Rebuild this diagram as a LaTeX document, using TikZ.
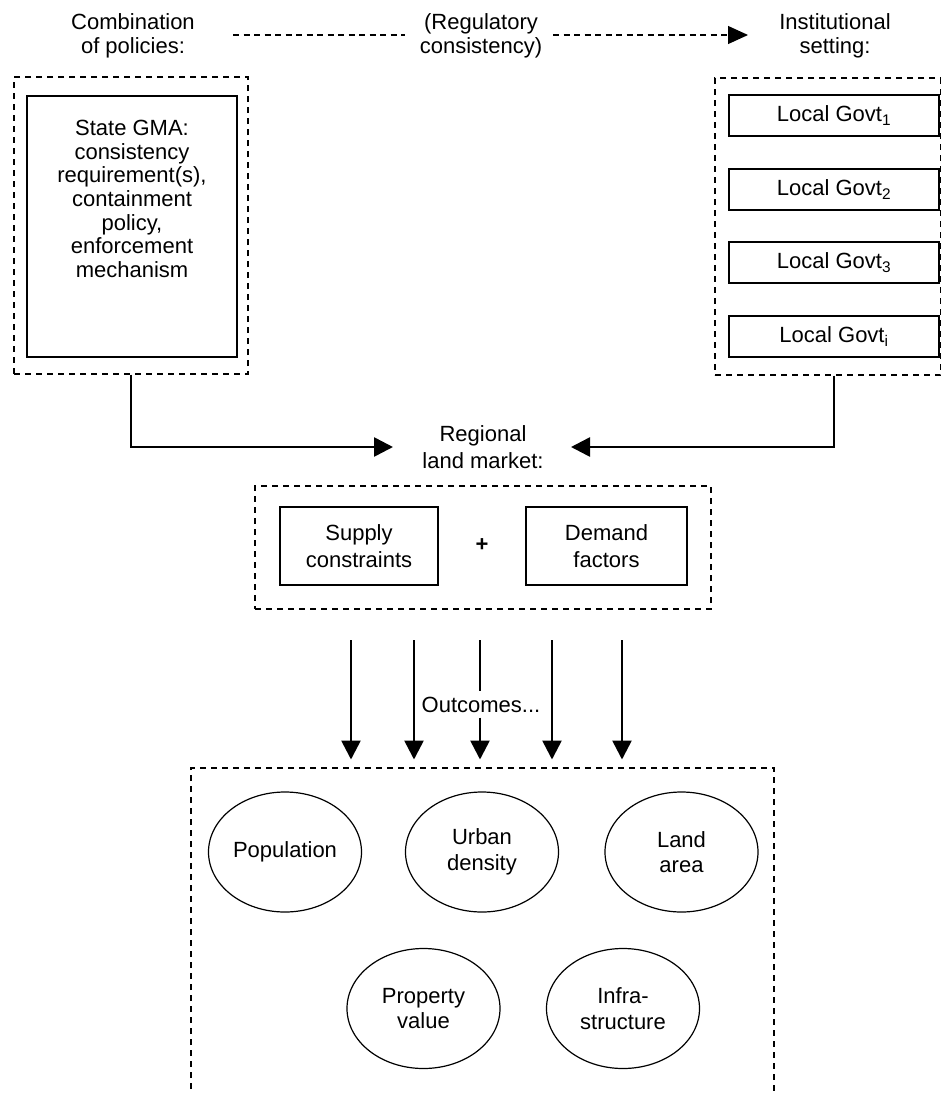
\documentclass[tikz,border=0pt]{standalone}
\usepackage{fontspec}
\setmainfont{Liberation Sans}
\usetikzlibrary{arrows.meta,shapes.geometric}
\tikzset{
  txt/.style={font=\fontsize{22}{24.5}\selectfont, align=center, inner sep=0pt},
  dbox/.style={draw, dash pattern=on 6pt off 5pt, line width=1.1pt},
  sbox/.style={draw, line width=1.4pt},
  oval/.style={draw, ellipse, line width=1.2pt, minimum width=153pt, minimum height=120pt, inner sep=0pt, font=\fontsize{22}{25.5}\selectfont, align=center},
  bigarrow/.style={line width=2.6pt, -{Triangle[length=19pt,width=19pt]}},
  darrow/.style={line width=1.2pt, dash pattern=on 6pt off 4.5pt},
  darrowhead/.style={line width=1.2pt, dash pattern=on 6pt off 4.5pt, -{Triangle[length=20pt,width=18pt]}}
}
\begin{document}
\begin{tikzpicture}[x=1pt,y=-1pt]
\useasboundingbox (0,0) rectangle (942,1093);

% top labels
\node[txt] (comb) at (133,36) {Combination\\of policies:};
\node[txt] (regc) at (481,36) {(Regulatory\\consistency)};
\node[txt] (inst) at (835,36) {Institutional\\setting:};
\coordinate (d1s) at (233,35);
\coordinate (d1e) at (405,35);
\coordinate (d2s) at (553,35);
\coordinate (d2e) at (748,35);
\draw[darrow] (d1s) -- (d1e);
\draw[darrowhead] (d2s) -- (d2e);

% left group
\node[dbox, minimum width=234pt, minimum height=297pt, inner sep=0pt] (lout) at (131,225.5) {};
\node[sbox, minimum width=210pt, minimum height=261pt, inner sep=0pt] (gma) at (132,226.5) {};
\node[txt, font=\fontsize{22}{23.7}\selectfont] (gmatext) at (132,199) {State GMA:\\consistency\\requirement(s),\\containment\\policy,\\enforcement\\mechanism};

% right group
\node[dbox, minimum width=225.5pt, minimum height=297pt, inner sep=0pt] (rout) at (827.75,226.5) {};
\node[sbox, txt, minimum width=210pt, minimum height=41pt] (gov1) at (834,115.5) {Local Govt\textsubscript{1}};
\node[sbox, txt, minimum width=210pt, minimum height=41pt] (gov2) at (834,189.5) {Local Govt\textsubscript{2}};
\node[sbox, txt, minimum width=210pt, minimum height=41pt] (gov3) at (834,262.5) {Local Govt\textsubscript{3}};
\node[sbox, txt, minimum width=210pt, minimum height=41pt] (gov4) at (834,336.5) {Local Govt\textsubscript{i}};

% regional land market
\node[txt, font=\fontsize{22}{27}\selectfont] (market) at (483,447) {Regional\\land market:};
\coordinate (ltip) at (393,447);
\coordinate (rtip) at (571,447);
\draw[bigarrow] (lout.south) |- (ltip);
\draw[bigarrow] (gov4.south |- rout.south) |- (rtip);

\node[dbox, minimum width=456pt, minimum height=123pt, inner sep=0pt] (mkt) at (483,547.5) {};
\node[sbox, txt, font=\fontsize{22}{27}\selectfont, minimum width=158pt, minimum height=78pt] (supply) at (359,546) {Supply\\constraints};
\node[sbox, txt, font=\fontsize{22}{27}\selectfont, minimum width=161pt, minimum height=78pt] (demand) at (606.5,546) {Demand\\factors};
\node[txt, font=\bfseries\fontsize{22}{24}\selectfont] (plus) at (482,545) {+};

% outcome arrows
\node[txt, minimum height=26pt] (outc) at (481,704.5) {Outcomes...};
\foreach \i/\x in {1/351,2/414,4/552,5/622} {
  \coordinate (s\i) at (\x,640);
  \coordinate (t\i) at (\x,759.5);
  \draw[bigarrow] (s\i) -- (t\i);
}
\coordinate (s3) at (480,640);
\coordinate (t3) at (480,759.5);
\draw[line width=2.6pt] (s3) -- (s3 |- outc.north);
\draw[bigarrow] (s3 |- outc.south) -- (t3);

% outcomes box (open at bottom)
\draw[dbox] (191,1100) -- (191,768) -- (774,768) -- (774,1100);
\node[oval] (pop) at (285,852) {Population};
\node[oval] (urb) at (482,852) {Urban\\density};
\node[oval] (land) at (681.5,852) {Land\\area};
\node[oval] (prop) at (423.5,1008.5) {Property\\value};
\node[oval] (infra) at (623,1008.5) {Infra-\\structure};
\end{tikzpicture}
\end{document}
